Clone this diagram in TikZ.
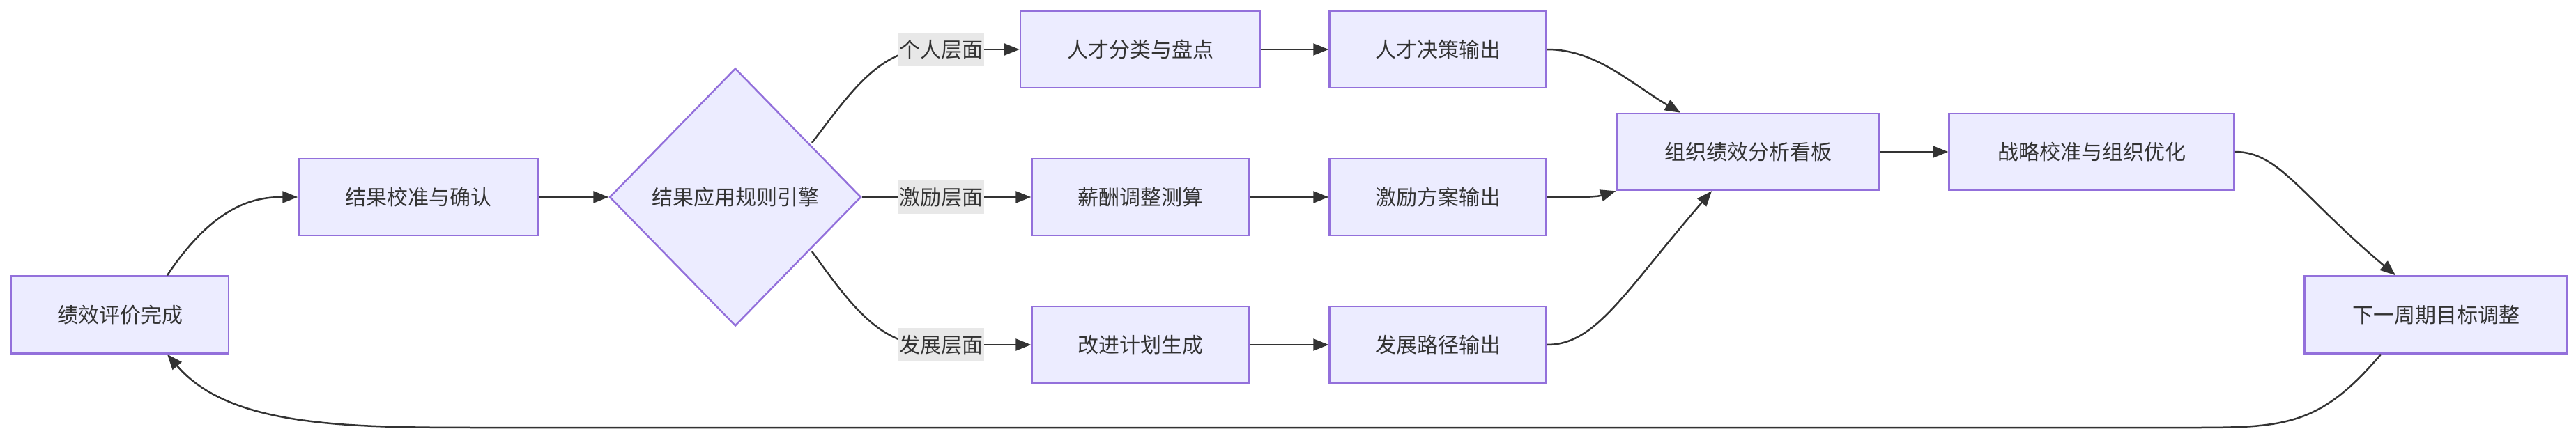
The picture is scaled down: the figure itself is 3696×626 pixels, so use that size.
\documentclass[tikz,border=0pt]{standalone}
\usepackage{fontspec}
\setmainfont{Noto Sans CJK SC}
\usetikzlibrary{shapes.geometric,arrows.meta}
\definecolor{nfill}{HTML}{ECECFF}
\definecolor{nline}{HTML}{9370DB}
\definecolor{eline}{HTML}{333333}
\definecolor{lbg}{HTML}{E8E8E8}
\begin{document}
\begin{tikzpicture}[x=1pt,y=-1pt,
  box/.style={draw=nline,fill=nfill,line width=2.5pt,inner sep=0pt,font=\fontsize{30}{36}\selectfont,text=eline},
  lab/.style={fill=lbg,inner sep=2pt,font=\fontsize{30}{36}\selectfont,text=eline,minimum height=48pt},
  e/.style={draw=eline,line width=2.5pt},
  a/.style={e,-{Triangle[length=22pt,width=17pt]}}]
\useasboundingbox (0,0) rectangle (3696,626);
\node[box,minimum width=312pt,minimum height=111pt] (A) at (172,452) {绩效评价完成};
\node[box,minimum width=343pt,minimum height=110pt] (B) at (600,283) {结果校准与确认};
\node[box,shape=diamond,aspect=0.976,minimum width=361pt,minimum height=370pt] (D) at (1055,283) {结果应用规则引擎};
\node[box,minimum width=344pt,minimum height=110pt] (P1) at (1636,71) {人才分类与盘点};
\node[box,minimum width=311pt,minimum height=110pt] (P2) at (2063,71) {人才决策输出};
\node[box,minimum width=311pt,minimum height=110pt] (M1) at (1636,283) {薪酬调整测算};
\node[box,minimum width=311pt,minimum height=110pt] (M2) at (2063,283) {激励方案输出};
\node[box,minimum width=311pt,minimum height=110pt] (G1) at (1636,495) {改进计划生成};
\node[box,minimum width=311pt,minimum height=110pt] (G2) at (2063,495) {发展路径输出};
\node[box,minimum width=377pt,minimum height=110pt] (O) at (2508,218) {组织绩效分析看板};
\node[box,minimum width=409pt,minimum height=110pt] (S) at (3001,218) {战略校准与组织优化};
\node[box,minimum width=377pt,minimum height=111pt] (N) at (3495,452) {下一周期目标调整};
% edges
\draw[a] (A.north) ++(68,0) coordinate (a0) .. controls (310,290) and (370,283) .. (B.west);
\draw[a] (B.east) -- (D.west);
\draw[e] (D.north east) ++(-2,0) coordinate (d1);
\draw[e] (1165,205) .. controls (1215,140) and (1260,71) .. (1330,71) coordinate (l1);
\draw[e] (1165,361) .. controls (1215,430) and (1260,495) .. (1330,495) coordinate (l3);
\draw[e] (D.east) -- (1330,283) coordinate (l2);
\node[lab] (L1) at (1350,71) {个人层面};
\node[lab] (L2) at (1350,283) {激励层面};
\node[lab] (L3) at (1350,495) {发展层面};
\draw[a] (L1.east) -- (P1.west);
\draw[a] (L2.east) -- (M1.west);
\draw[a] (L3.east) -- (G1.west);
\draw[a] (P1.east) -- (P2.west);
\draw[a] (M1.east) -- (M2.west);
\draw[a] (G1.east) -- (G2.west);
\draw[a] (P2.east) .. controls (2290,71) and (2340,120) .. (O.north west -| 2411,0);
\draw[a] (M2.east) .. controls (2270,283) and (2290,283) .. (O.south west);
\draw[a] (G2.east) .. controls (2290,495) and (2330,420) .. (O.south west -| 2456,0);
\draw[a] (O.east) -- (S.west);
\draw[a] (S.east) .. controls (3270,218) and (3300,280) .. (N.north west -| 3437,0);
\draw[a] (N.south west -| 3416,0) .. controls (3330,610) and (3280,614) .. (3150,614)
  -- (700,614) .. controls (500,614) and (330,614) .. (A.south west -| 240,0);
\end{tikzpicture}
\end{document}
